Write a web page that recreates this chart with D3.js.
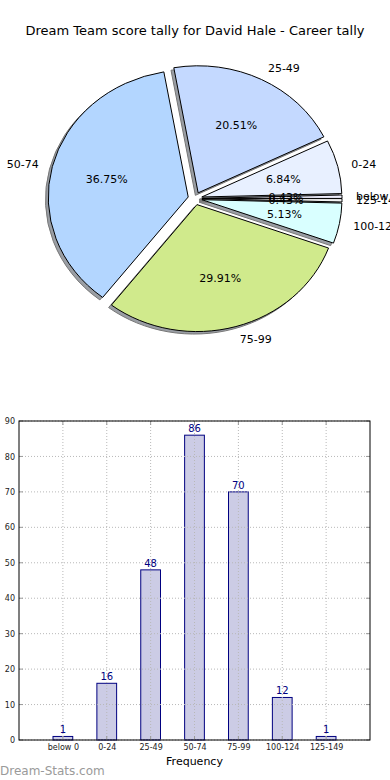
<!DOCTYPE html>
<html><head><meta charset="utf-8">
<script src="https://cdn.jsdelivr.net/npm/d3@7"></script>
<style>body{margin:0;background:#fff}svg{display:block;font-family:"DejaVu Sans",sans-serif}</style>
</head><body>
<svg id="c" width="390" height="780"></svg>
<script>
const title = "Dream Team score tally for David Hale - Career tally";
const categories = ["below 0","0-24","25-49","50-74","75-99","100-124","125-149"];
const counts = [1,16,48,86,70,12,1];
const pieColors = ["#f0f0ff","#e8f0ff","#c4d9ff","#b3d6ff","#d0ea8c","#d9ffff","#f4f4f4"];
const yTicks = [0,10,20,30,40,50,60,70,80,90];

const svg = d3.select("#c");
svg.append("text").attr("x",195).attr("y",35).attr("text-anchor","middle")
  .attr("font-size",13).attr("fill","#000").text(title);

// ---------- Pie ----------
const cx = 195, cy = 198.5, rx = 140, ry = 127, explode = 0.05;
const total = d3.sum(counts);
const pie = d3.pie().sort(null).startAngle(Math.PI/2).endAngle(Math.PI/2 - 2*Math.PI);
const arcs = pie(counts);
const arcGen = d3.arc().innerRadius(0).outerRadius(1);
const info = arcs.map((a,i)=>{
  const mid = (a.startAngle + a.endAngle)/2;
  const th = Math.PI/2 - mid; // matplotlib angle
  const dx = explode*rx*Math.cos(th), dy = -explode*ry*Math.sin(th);
  return {a, i, th, ox: cx+dx, oy: cy+dy};
});
const gp = svg.append("g");
// shadows
info.forEach(d=>{
  gp.append("path").attr("d",arcGen(d.a))
    .attr("transform",`translate(${d.ox-2.8},${d.oy+2.5}) scale(${rx},${ry})`)
    .attr("fill","#9a9ea4").attr("stroke","#777").attr("stroke-width",1)
    .attr("vector-effect","non-scaling-stroke");
});
info.forEach(d=>{
  gp.append("path").attr("d",arcGen(d.a))
    .attr("transform",`translate(${d.ox},${d.oy}) scale(${rx},${ry})`)
    .attr("fill",pieColors[d.i]).attr("stroke","#000").attr("stroke-width",1)
    .attr("vector-effect","non-scaling-stroke");
});
info.forEach(d=>{
  const c = Math.cos(d.th), s = Math.sin(d.th);
  gp.append("text").attr("x",d.ox+1.1*rx*c).attr("y",d.oy-1.1*ry*s)
    .attr("dy","0.36em").attr("text-anchor", c>0?"start":"end")
    .attr("font-size",11).text(categories[d.i]);
  gp.append("text").attr("x",d.ox+0.6*rx*c).attr("y",d.oy-0.6*ry*s)
    .attr("dy","0.36em").attr("text-anchor","middle")
    .attr("font-size",11).text((counts[d.i]/total*100).toFixed(2)+"%");
});

// ---------- Bar chart ----------
const L=19, R=370, T=421, B=740;
const x = d3.scaleLinear().domain([-1,7]).range([L,R]);
const y = d3.scaleLinear().domain([0,90]).range([B,T]);
const bw = 0.45;
const gb = svg.append("g");
gb.selectAll("rect.bar").data(counts).join("rect")
  .attr("x",(d,i)=>x(i-bw/2)).attr("width",x(bw)-x(0))
  .attr("y",d=>y(d)).attr("height",d=>y(0)-y(d))
  .attr("fill","#ccccE5").attr("stroke","#000080").attr("stroke-width",1);
// grid
yTicks.forEach(t=>{
  gb.append("line").attr("x1",L).attr("x2",R).attr("y1",y(t)).attr("y2",y(t))
    .attr("stroke","#b8b8b8").attr("stroke-dasharray","1,2");
});
categories.forEach((c,i)=>{
  gb.append("line").attr("x1",x(i)).attr("x2",x(i)).attr("y1",T).attr("y2",B)
    .attr("stroke","#b8b8b8").attr("stroke-dasharray","1,2");
});
// value labels
gb.selectAll("text.val").data(counts).join("text")
  .attr("x",(d,i)=>x(i)).attr("y",d=>y(d)-3).attr("text-anchor","middle")
  .attr("font-size",10).attr("fill","#000080").text(d=>d);
// ticks inside
yTicks.forEach(t=>{
  gb.append("line").attr("x1",L).attr("x2",L+4).attr("y1",y(t)).attr("y2",y(t)).attr("stroke","#999");
  gb.append("line").attr("x1",R-4).attr("x2",R).attr("y1",y(t)).attr("y2",y(t)).attr("stroke","#999");
});
categories.forEach((c,i)=>{
  gb.append("line").attr("x1",x(i)).attr("x2",x(i)).attr("y1",T).attr("y2",T+4).attr("stroke","#999");
  gb.append("line").attr("x1",x(i)).attr("x2",x(i)).attr("y1",B-4).attr("y2",B).attr("stroke","#999");
});
// frame
gb.append("rect").attr("x",L).attr("y",T).attr("width",R-L).attr("height",B-T)
  .attr("fill","none").attr("stroke","#000").attr("stroke-width",1);
// axis labels
const yAxis = d3.axisLeft(y).tickValues(yTicks).tickSize(0).tickPadding(4);
const ya = gb.append("g").attr("transform",`translate(${L},0)`).call(yAxis);
ya.select(".domain").remove();
ya.selectAll("text").attr("font-size",8).attr("fill","#222").attr("font-family","DejaVu Sans, sans-serif");
const xAxis = d3.axisBottom(x).tickValues(d3.range(categories.length)).tickFormat(i=>categories[i]).tickSize(0).tickPadding(4);
const xa = gb.append("g").attr("transform",`translate(0,${B})`).call(xAxis);
xa.select(".domain").remove();
xa.selectAll("text").attr("font-size",8).attr("fill","#222").attr("font-family","DejaVu Sans, sans-serif");
gb.append("text").attr("x",(L+R)/2).attr("y",765).attr("text-anchor","middle")
  .attr("font-size",11).text("Frequency");
svg.append("text").attr("x",0).attr("y",775).attr("font-size",12)
  .attr("fill","#9a9a9a").text("Dream-Stats.com");
</script>
</body></html>
